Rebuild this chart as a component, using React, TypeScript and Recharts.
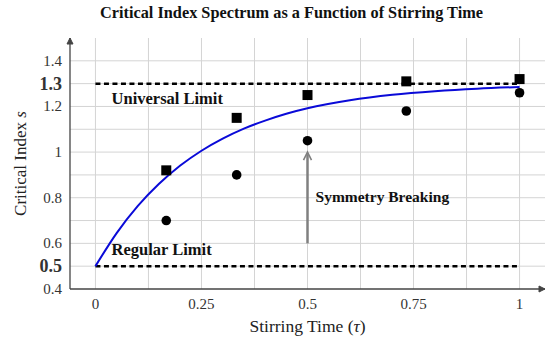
import React from "react"
import {
  ComposedChart,
  Line,
  Scatter,
  XAxis,
  YAxis,
  CartesianGrid,
  ReferenceLine,
  ReferenceDot,
} from "recharts"

// fitted curve
const fitTime = [0, 0.05, 0.1, 0.15, 0.2, 0.25, 0.3, 0.35, 0.4, 0.45, 0.5, 0.6, 0.7, 0.8, 0.9, 1]
const fitIndex = [0.5, 0.645, 0.764, 0.861, 0.941, 1.006, 1.059, 1.103, 1.138, 1.168, 1.192, 1.227, 1.251, 1.267, 1.278, 1.285]

// measured points
const pointTime = [0.167, 0.333, 0.5, 0.733, 1]
const squareIndex = [0.92, 1.15, 1.25, 1.31, 1.32]
const circleIndex = [0.7, 0.9, 1.05, 1.18, 1.26]

const xTicks = [0, 0.25, 0.5, 0.75, 1]
const yTicks = [0.4, 0.5, 0.6, 0.8, 1, 1.2, 1.3, 1.4]
const boldTicks = [0.5, 1.3]
const xGrid = [0, 0.125, 0.25, 0.375, 0.5, 0.625, 0.75, 0.875, 1]
const yGrid = [0.5, 0.6, 0.7, 0.8, 0.9, 1, 1.1, 1.2, 1.3, 1.4]

const universalLimit = 1.3
const regularLimit = 0.5
const arrowFrom = 0.6
const arrowTo = 1.0
const arrowAt = 0.5

const fitData = fitTime.map((t, i) => ({ t, s: fitIndex[i] }))
const squareData = pointTime.map((t, i) => ({ t, s: squareIndex[i] }))
const circleData = pointTime.map((t, i) => ({ t, s: circleIndex[i] }))

const FONT = '"Liberation Serif", "DejaVu Serif", serif'
const AXIS = "#444"

function YTick(props: any) {
  const { x, y, payload } = props
  const bold = boldTicks.includes(payload.value)
  return (
    <text
      x={x}
      y={y}
      textAnchor="end"
      dominantBaseline="central"
      fontFamily={FONT}
      fontSize={bold ? 18 : 15}
      fontWeight={bold ? 700 : 400}
      fill="#333"
    >
      {String(payload.value)}
    </text>
  )
}

function XTick(props: any) {
  const { x, y, payload } = props
  return (
    <text x={x} y={y + 12} textAnchor="middle" fontFamily={FONT} fontSize={15} fill="#333">
      {String(payload.value)}
    </text>
  )
}

function Square(props: any) {
  const { cx, cy } = props
  return <rect x={cx - 5} y={cy - 5} width={10} height={10} fill="#000" />
}

function Dot(props: any) {
  const { cx, cy } = props
  return <circle cx={cx} cy={cy} r={4.8} fill="#000" />
}

function Arrow(props: any) {
  const { x1, y1, x2, y2 } = props
  const top = Math.min(y1, y2)
  const bottom = Math.max(y1, y2)
  return (
    <g>
      <line x1={x1} y1={bottom} x2={x2} y2={top + 2} stroke="#808080" strokeWidth={2.5} />
      <path
        d={`M${x1 - 4},${top + 8} L${x1},${top} L${x1 + 4},${top + 8}`}
        fill="none"
        stroke="#808080"
        strokeWidth={1.6}
      />
    </g>
  )
}

function annotation(text: string, size: number) {
  return (props: any) => (
    <text
      x={props.cx}
      y={props.cy}
      dominantBaseline="central"
      fontFamily={FONT}
      fontSize={size}
      fontWeight={700}
      fill="#111"
    >
      {text}
    </text>
  )
}

function AxisArrow(dir: "up" | "right") {
  return (props: any) => {
    const { cx, cy } = props
    const d =
      dir === "up"
        ? `M${cx - 3},${cy + 6} L${cx},${cy} L${cx + 3},${cy + 6} Z`
        : `M${cx - 6},${cy - 3} L${cx},${cy} L${cx - 6},${cy + 3} Z`
    return <path d={d} fill={AXIS} stroke={AXIS} />
  }
}

function YLabel(props: any) {
  const { viewBox } = props
  const cy = viewBox.y + viewBox.height / 2
  return (
    <text
      x={20}
      y={cy}
      transform={`rotate(-90, 20, ${cy})`}
      textAnchor="middle"
      dominantBaseline="central"
      fontFamily={FONT}
      fontSize={17}
      fill="#222"
    >
      Critical Index <tspan fontStyle="italic">s</tspan>
    </text>
  )
}

function XLabel(props: any) {
  const { viewBox } = props
  return (
    <text
      x={viewBox.x + viewBox.width / 2}
      y={326}
      textAnchor="middle"
      dominantBaseline="central"
      fontFamily={FONT}
      fontSize={17.5}
      fill="#222"
    >
      Stirring Time (<tspan fontStyle="italic">τ</tspan>)
    </text>
  )
}

export default function App() {
  return (
    <div style={{ position: "absolute", left: 0, top: 0, width: 550, height: 340, background: "#fff" }}>
      <div
        style={{
          position: "absolute",
          top: 3,
          left: 0,
          width: 583,
          textAlign: "center",
          fontFamily: FONT,
          fontWeight: 700,
          fontSize: 16.3,
          color: "#111",
          whiteSpace: "nowrap",
        }}
      >
        Critical Index Spectrum as a Function of Stirring Time
      </div>
      <ComposedChart width={550} height={340} margin={{ top: 38, right: 5, bottom: 0, left: 0 }}>
        <CartesianGrid
          stroke="#d4d4d4"
          strokeWidth={1}
          horizontalValues={yGrid}
          verticalValues={xGrid}
        />
        <XAxis
          type="number"
          dataKey="t"
          domain={[-0.06, 1.06]}
          allowDataOverflow
          ticks={xTicks}
          interval={0}
          tick={<XTick />}
          tickLine={false}
          axisLine={{ stroke: AXIS, strokeWidth: 1.3 }}
          height={51}
          label={<XLabel />}
        />
        <YAxis
          type="number"
          dataKey="s"
          domain={[0.4, 1.5]}
          allowDataOverflow
          ticks={yTicks}
          interval={0}
          tick={<YTick />}
          tickLine={false}
          axisLine={{ stroke: AXIS, strokeWidth: 1.3 }}
          width={70}
          label={<YLabel />}
        />
        <ReferenceLine
          segment={[{ x: 0, y: universalLimit }, { x: 1, y: universalLimit }]}
          stroke="#000"
          strokeWidth={2.5}
          strokeDasharray="5 3.5"
        />
        <ReferenceLine
          segment={[{ x: 0, y: regularLimit }, { x: 1, y: regularLimit }]}
          stroke="#000"
          strokeWidth={2.5}
          strokeDasharray="5 3.5"
        />
        <ReferenceLine
          segment={[{ x: arrowAt, y: arrowFrom }, { x: arrowAt, y: arrowTo }]}
          shape={<Arrow />}
        />
        <Line
          data={fitData}
          dataKey="s"
          type="monotone"
          stroke="#0a0ad8"
          strokeWidth={2}
          dot={false}
          isAnimationActive={false}
        />
        <Scatter data={squareData} dataKey="s" shape={<Square />} isAnimationActive={false} />
        <Scatter data={circleData} dataKey="s" shape={<Dot />} isAnimationActive={false} />
        <ReferenceDot x={0.038} y={1.235} r={0} ifOverflow="visible" shape={annotation("Universal Limit", 16.5)} />
        <ReferenceDot x={0.038} y={0.574} r={0} ifOverflow="visible" shape={annotation("Regular Limit", 16.5)} />
        <ReferenceDot x={0.519} y={0.804} r={0} ifOverflow="visible" shape={annotation("Symmetry Breaking", 15.5)} />
        <ReferenceDot x={-0.06} y={1.5} r={0} ifOverflow="visible" shape={AxisArrow("up")} />
        <ReferenceDot x={1.06} y={0.4} r={0} ifOverflow="visible" shape={AxisArrow("right")} />
      </ComposedChart>
    </div>
  )
}
